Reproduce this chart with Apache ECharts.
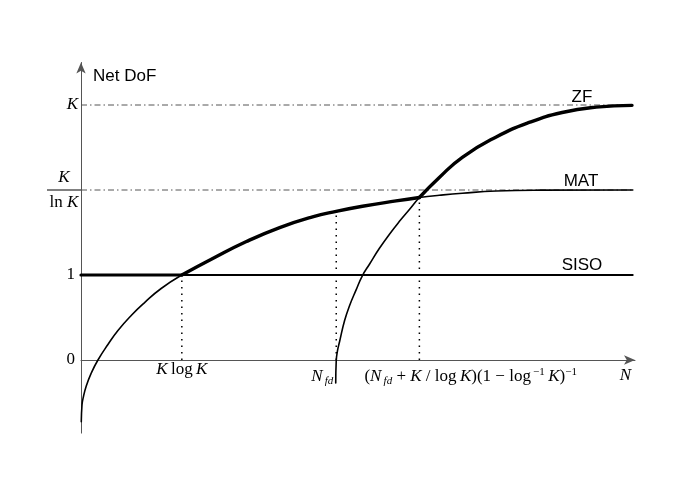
<!DOCTYPE html>
<html>
<head>
<meta charset="utf-8">
<script src="https://cdn.jsdelivr.net/npm/echarts@6/dist/echarts.min.js"></script>
<style>
html, body { margin: 0; padding: 0; background: #fff; }
#chart { width: 692px; height: 485px; }
</style>
</head>
<body>
<div id="chart"></div>
<script>
// x runs over N (0..100 along the axis), y is DoF: 1 = SISO, 2 = K/lnK, 3 = K
let yTicks = [0, 1, 2, 3];
let xMarks = [18.2, 46.07, 61.08];       // K log K, N_fd, MAT/ZF crossing
let xMarkTops = [1.0, 1.749, 1.912];     // where each dotted drop starts

let sisoLevel = 1;
let matLevel = 2;
let zfLevel = 3;
let xEnd = 99.6;

let matX = [0.05, 0.18, 0.36, 0.95, 1.86, 3.06, 4.86, 6.67, 9.06, 11.48, 14.47, 18.2, 23.78, 29.86, 35.86, 41.8, 46.07, 50.81, 56.88, 61.08, 64.68, 68.83, 74.95, 82.7, 99.6];
let matY = [-0.726, -0.529, -0.455, -0.306, -0.153, 0, 0.182, 0.347, 0.524, 0.676, 0.841, 1.0, 1.194, 1.394, 1.558, 1.684, 1.749, 1.809, 1.872, 1.912, 1.938, 1.962, 1.988, 1.998, 2.0];

let zfX = [45.98, 46.07, 46.31, 46.67, 47.57, 48.47, 49.68, 50.76, 52.07, 53.87, 55.68, 57.48, 59.28, 61.08, 64.68, 68.83, 74.95, 80.9, 86.85, 92.97, 99.46];
let zfY = [-0.271, -0.012, 0.112, 0.215, 0.461, 0.638, 0.828, 0.988, 1.127, 1.314, 1.48, 1.631, 1.771, 1.912, 2.147, 2.385, 2.624, 2.795, 2.912, 2.975, 2.996];

const SERIF = '"Liberation Serif", "DejaVu Serif", serif';
const SANS = '"Liberation Sans", Arial, sans-serif';

function piece(xs, ys, from, to) {
    let out = [];
    for (let i = 0; i < xs.length; i++) {
        if (xs[i] >= from && xs[i] <= to) out.push([xs[i], ys[i]]);
    }
    return out;
}

function curve(data, width, z) {
    return {
        type: 'line', data: data, showSymbol: false, smooth: 0.5,
        lineStyle: { color: '#000', width: width, cap: 'round' }, z: z || 5
    };
}

function guide(data, type, color, width) {
    return {
        type: 'line', data: data, showSymbol: false,
        lineStyle: { color: color, width: width, type: type }, z: 2
    };
}

let k = xMarks[0], cross = xMarks[2];
let series = [
    guide([[0, zfLevel], [xEnd, zfLevel]], [6, 3, 1.5, 3], '#555', 1),
    guide([[0, matLevel], [xEnd, matLevel]], [6, 3, 1.5, 3], '#555', 1),
    curve([[0, sisoLevel], [k, sisoLevel]], 3.2, 6),
    curve([[k, sisoLevel], [xEnd, sisoLevel]], 1.8),
    // whole curves thin, the winning stretch drawn thick on top
    curve(piece(matX, matY, 0, 100), 1.6),
    curve(piece(matX, matY, k, cross), 3.4, 6),
    curve(piece(zfX, zfY, 0, 100), 1.6),
    curve(piece(zfX, zfY, cross, 100), 3.4, 6)
];
for (let i = 0; i < xMarks.length; i++) {
    series.push(guide([[xMarks[i], 0], [xMarks[i], xMarkTops[i]]], [1.5, 5], '#000', 1.5));
}

let axisLine = {
    show: true, onZero: true, symbol: ['none', 'arrow'], symbolSize: [7, 11],
    lineStyle: { color: '#555', width: 1 }
};

let chart = echarts.init(document.getElementById('chart'));
chart.setOption({
    animation: false,
    backgroundColor: '#fff',
    grid: { left: 81, right: 57, top: 62.5, bottom: 51.9 },
    xAxis: {
        type: 'value', min: 0, max: 100,
        axisLine: axisLine, axisTick: { show: false }, axisLabel: { show: false }, splitLine: { show: false }
    },
    yAxis: {
        type: 'value', min: -0.86, max: 3.5,
        axisLine: axisLine, axisTick: { show: false }, axisLabel: { show: false }, splitLine: { show: false }
    },
    series: series
});

let p = (x, y) => chart.convertToPixel({ gridIndex: 0 }, [x, y]);
let ox = p(0, 0)[0], oy = p(0, 0)[1];
let yPx = yTicks.map(v => p(0, v)[1]);
let topPx = p(0, 3.5)[1];

function txt(x, y, text, opts) {
    return {
        type: 'text', x: x, y: y, z: 10,
        style: Object.assign({
            text: text, fill: '#000', fontFamily: SERIF, fontSize: 17,
            align: 'center', verticalAlign: 'middle'
        }, opts || {})
    };
}

let ital = { fontStyle: 'italic', fontFamily: SERIF, fontSize: 17 };
let sub = { fontStyle: 'italic', fontFamily: SERIF, fontSize: 11, verticalAlign: 'bottom', lineHeight: 9 };
let sup = { fontFamily: SERIF, fontSize: 11, verticalAlign: 'top', lineHeight: 9 };

let graphic = [
    txt(ox + 12, topPx + 13.5, 'Net DoF', { fontFamily: SANS, fontSize: 17, align: 'left' }),
    txt(ox - 3, yPx[3], 'K', { fontStyle: 'italic', align: 'right' }),
    txt(ox - 17, yPx[2] - 12, 'K', { fontStyle: 'italic' }),
    txt(ox - 17, yPx[2] + 13, '{r|ln }{i|K}', { rich: { r: { fontFamily: SERIF, fontSize: 17 }, i: ital } }),
    { type: 'line', z: 10, shape: { x1: ox - 34, y1: yPx[2], x2: ox, y2: yPx[2] }, style: { stroke: '#000', lineWidth: 1 } },
    txt(ox - 6, yPx[1], '1', { align: 'right' }),
    txt(ox - 6, yPx[0], '0', { align: 'right' }),

    txt(p(xMarks[0], 0)[0], oy + 10, '{i|K}\u2009log\u2009{i|K}', { rich: { i: ital } }),
    txt(p(xMarks[1], 0)[0] - 3, oy + 17, '{i|N}{s|\u2009fd}', { align: 'right', lineHeight: 20, rich: { i: Object.assign({ lineHeight: 20 }, ital), s: sub } }),
    txt(p(xMarks[2], 0)[0] - 55, oy + 17,
        '({i|N}{s|\u2009fd} + {i|K} / log\u2009{i|K})(1 \u2212 log{p|\u2009\u22121}\u2009{i|K}){p|\u22121}',
        { align: 'left', fontSize: 17, lineHeight: 20, rich: { i: Object.assign({ lineHeight: 20 }, ital), s: sub, p: sup } }),
    txt(p(100, 0)[0] - 4, oy + 16, 'N', { fontStyle: 'italic', align: 'right' }),

    txt(ox + 501, yPx[3] - 8, 'ZF', { fontFamily: SANS, fontSize: 17 }),
    txt(ox + 500, yPx[2] - 9, 'MAT', { fontFamily: SANS, fontSize: 17 }),
    txt(ox + 501, yPx[1] - 10, 'SISO', { fontFamily: SANS, fontSize: 17 })
];
chart.setOption({ graphic: graphic });
</script>
</body>
</html>
